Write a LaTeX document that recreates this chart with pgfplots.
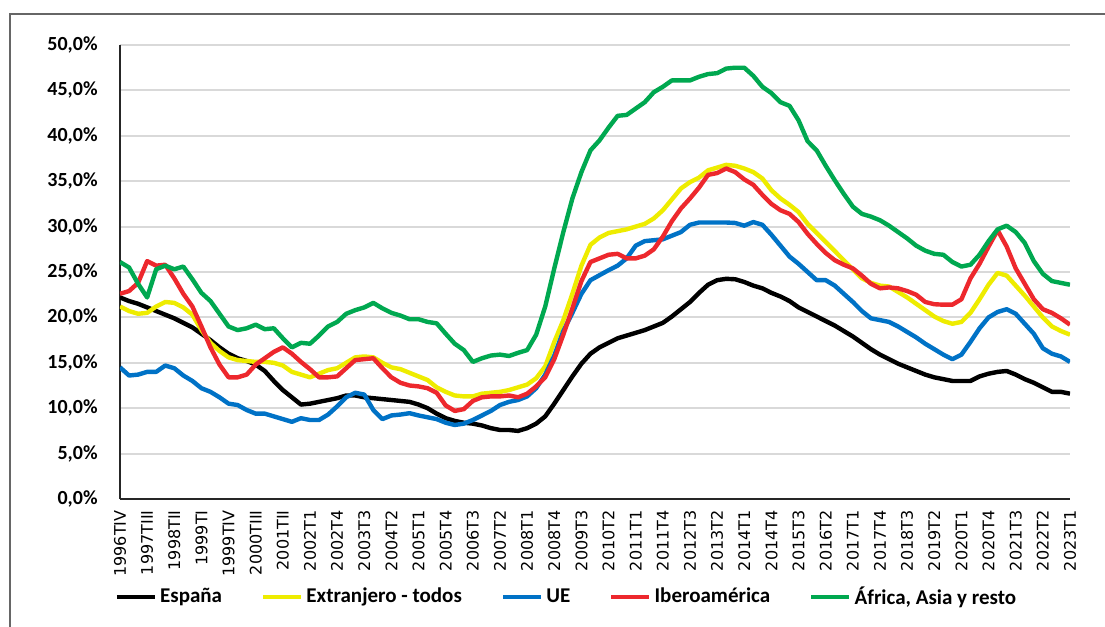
\documentclass[border=0pt]{standalone}
\usepackage{pgfplots}
\pgfplotsset{compat=1.18}
\usepackage{pgfplotstable}
\usepackage{fontspec}
\setmainfont{Carlito}
\newfontfamily\dejavu{DejaVu Sans}
\definecolor{cyel}{RGB}{238,236,0}
\definecolor{cblu}{RGB}{0,114,198}
\definecolor{cred}{RGB}{237,40,45}
\definecolor{cgre}{RGB}{0,168,80}
\pgfplotstableread{
i esp ext ue ibe afr
0 22.2 21.2 14.5 22.6 26.1
1 21.8 20.7 13.6 22.9 25.5
2 21.5 20.4 13.7 23.8 23.7
3 21.1 20.5 14.0 26.2 22.2
4 20.7 21.2 14.0 25.7 25.3
5 20.3 21.7 14.7 25.8 25.7
6 19.9 21.6 14.4 24.3 25.3
7 19.4 21.1 13.6 22.6 25.6
8 18.9 20.3 13.0 21.2 24.2
9 18.2 18.6 12.2 19.0 22.7
10 17.5 17.2 11.8 16.7 21.8
11 16.7 16.3 11.2 14.8 20.4
12 16.0 15.6 10.5 13.4 19.0
13 15.5 15.3 10.35 13.4 18.6
14 15.2 15.2 9.8 13.7 18.8
15 14.8 15.1 9.4 14.8 19.2
16 14.1 15.1 9.4 15.5 18.7
17 13.0 15.0 9.1 16.2 18.8
18 12.0 14.7 8.8 16.7 17.7
19 11.2 14.0 8.5 16.0 16.7
20 10.4 13.7 8.9 15.1 17.2
21 10.5 13.4 8.7 14.3 17.1
22 10.7 13.8 8.7 13.4 18.0
23 10.9 14.2 9.3 13.4 19.0
24 11.1 14.4 10.2 13.5 19.5
25 11.4 15.0 11.2 14.4 20.4
26 11.4 15.6 11.7 15.3 20.8
27 11.2 15.7 11.5 15.4 21.1
28 11.1 15.6 9.8 15.5 21.6
29 11.0 15.0 8.8 14.4 21.0
30 10.9 14.5 9.2 13.4 20.5
31 10.8 14.3 9.3 12.8 20.2
32 10.7 13.9 9.45 12.5 19.8
33 10.4 13.5 9.2 12.4 19.8
34 10.0 13.1 9.0 12.2 19.5
35 9.4 12.3 8.8 11.7 19.35
36 8.9 11.8 8.4 10.3 18.2
37 8.6 11.4 8.15 9.7 17.1
38 8.4 11.3 8.3 9.9 16.4
39 8.3 11.3 8.7 10.8 15.1
40 8.1 11.6 9.2 11.2 15.5
41 7.8 11.7 9.7 11.3 15.8
42 7.6 11.8 10.35 11.3 15.9
43 7.6 12.0 10.7 11.4 15.75
44 7.5 12.3 10.9 11.2 16.1
45 7.8 12.6 11.3 11.6 16.4
46 8.3 13.3 12.2 12.4 18.1
47 9.1 14.6 13.7 13.4 21.2
48 10.5 17.3 15.8 15.4 25.4
49 12.0 19.7 18.5 18.1 29.4
50 13.5 22.6 20.5 21.0 33.1
51 14.9 25.7 22.6 24.0 36.0
52 16.0 28.0 24.1 26.1 38.4
53 16.7 28.8 24.65 26.5 39.5
54 17.2 29.3 25.2 26.9 40.9
55 17.7 29.5 25.7 27.0 42.2
56 18.0 29.7 26.5 26.5 42.3
57 18.3 30.0 27.9 26.5 43.0
58 18.6 30.3 28.4 26.8 43.7
59 19.0 30.9 28.5 27.5 44.8
60 19.4 31.8 28.6 28.9 45.4
61 20.1 33.0 29.0 30.6 46.1
62 20.9 34.2 29.4 32.0 46.1
63 21.7 34.9 30.2 33.1 46.1
64 22.7 35.4 30.45 34.3 46.5
65 23.6 36.2 30.45 35.7 46.8
66 24.1 36.5 30.45 35.9 46.9
67 24.25 36.8 30.45 36.4 47.4
68 24.2 36.7 30.4 36.0 47.5
69 23.9 36.4 30.1 35.2 47.5
70 23.5 36.0 30.5 34.6 46.6
71 23.2 35.3 30.2 33.5 45.4
72 22.7 34.0 29.1 32.5 44.7
73 22.3 33.1 27.9 31.8 43.7
74 21.8 32.4 26.7 31.4 43.3
75 21.1 31.6 25.9 30.5 41.7
76 20.6 30.3 25.0 29.2 39.4
77 20.1 29.3 24.1 28.1 38.4
78 19.6 28.3 24.1 27.1 36.7
79 19.1 27.3 23.5 26.3 35.1
80 18.5 26.3 22.6 25.8 33.6
81 17.9 25.3 21.7 25.4 32.2
82 17.2 24.3 20.7 24.6 31.4
83 16.5 23.8 19.9 23.7 31.1
84 15.9 23.5 19.7 23.2 30.7
85 15.4 23.4 19.5 23.3 30.1
86 14.9 22.8 19.0 23.2 29.4
87 14.5 22.2 18.4 22.9 28.7
88 14.1 21.5 17.8 22.5 27.9
89 13.7 20.8 17.1 21.7 27.35
90 13.4 20.1 16.5 21.45 27.0
91 13.2 19.6 15.9 21.4 26.9
92 13.0 19.3 15.4 21.4 26.1
93 13.0 19.5 15.9 22.0 25.6
94 13.0 20.5 17.3 24.3 25.8
95 13.5 22.0 18.8 25.9 26.9
96 13.8 23.6 20.0 27.8 28.4
97 14.0 24.9 20.6 29.6 29.7
98 14.1 24.6 20.9 27.8 30.1
99 13.7 23.5 20.4 25.4 29.4
100 13.2 22.4 19.3 23.7 28.2
101 12.8 21.2 18.2 22.0 26.2
102 12.3 20.0 16.6 20.9 24.8
103 11.8 19.0 16.0 20.5 24.0
104 11.8 18.5 15.7 19.9 23.8
105 11.6 18.1 15.1 19.2 23.6
}\datatab
\begin{document}
\begin{tikzpicture}
\begin{axis}[
  at={(0,0)}, anchor=south west,
  scale only axis, width=475pt, height=227pt,
  xmin=0, xmax=105, ymin=0, ymax=50,
  axis x line*=bottom, axis y line*=left,
  x axis line style={-, line width=1.1pt, black!85},
  y axis line style={-, line width=0.7pt, black!85},
  major tick length=0pt,
  ytick={0,5,...,50},
  yticklabels={{0,0\%},{5,0\%},{10,0\%},{15,0\%},{20,0\%},{25,0\%},{30,0\%},{35,0\%},{40,0\%},{45,0\%},{50,0\%}},
  xtick={0,3,...,105},
  xticklabels={1996TIV,1997TIII,1998TII,1999TI,1999TIV,2000TIII,2001TII,2002T1,2002T4,2003T3,2004T2,2005T1,2005T4,2006T3,2007T2,2008T1,2008T4,2009T3,2010T2,2011T1,2011T4,2012T3,2013T2,2014T1,2014T4,2015T3,2016T2,2017T1,2017T4,2018T3,2019T2,2020T1,2020T4,2021T3,2022T2,2023T1},
  /pgf/number format/assume math mode=true,
  yticklabel style={font=\bfseries\fontsize{10}{12}\selectfont, anchor=east, inner sep=0pt},
  yticklabel shift=11pt,
  xticklabel style={font=\dejavu\fontsize{8}{9.5}\selectfont, rotate=90, anchor=east, inner sep=0pt},
  xticklabel shift=5.5pt,
  ymajorgrids,
  major grid style={line width=1pt, black!15},
  legend columns=5,
  legend style={draw=none, fill=none, at={(0.4705,-0.2159)}, anchor=center,
    font=\bfseries\fontsize{10.5}{12}\selectfont,
    nodes={inner xsep=1.5pt},
    /tikz/every even column/.append style={column sep=18pt}},
  legend image code/.code={\draw[#1, line width=2.2pt] (0pt,0pt) -- (19pt,0pt);},
  every axis plot/.append style={line width=2.2pt, line join=round, mark=none},
]
\addplot[black] table[x=i,y=esp]{\datatab};
\addlegendentry{España}
\addplot[cyel] table[x=i,y=ext]{\datatab};
\addlegendentry{Extranjero - todos}
\addplot[cblu] table[x=i,y=ue]{\datatab};
\addlegendentry{UE}
\addplot[cred] table[x=i,y=ibe]{\datatab};
\addlegendentry{Iberoamérica}
\addplot[cgre] table[x=i,y=afr]{\datatab};
\addlegendentry{África, Asia y resto}
\end{axis}
\draw[black!60, line width=0.8pt] (-55pt,-64pt) -- (-55pt,242.5pt) -- (492.5pt,242.5pt);
\pgfresetboundingbox
\useasboundingbox (-60pt,-64pt) rectangle (492.5pt,249.5pt);
\end{tikzpicture}
\end{document}
